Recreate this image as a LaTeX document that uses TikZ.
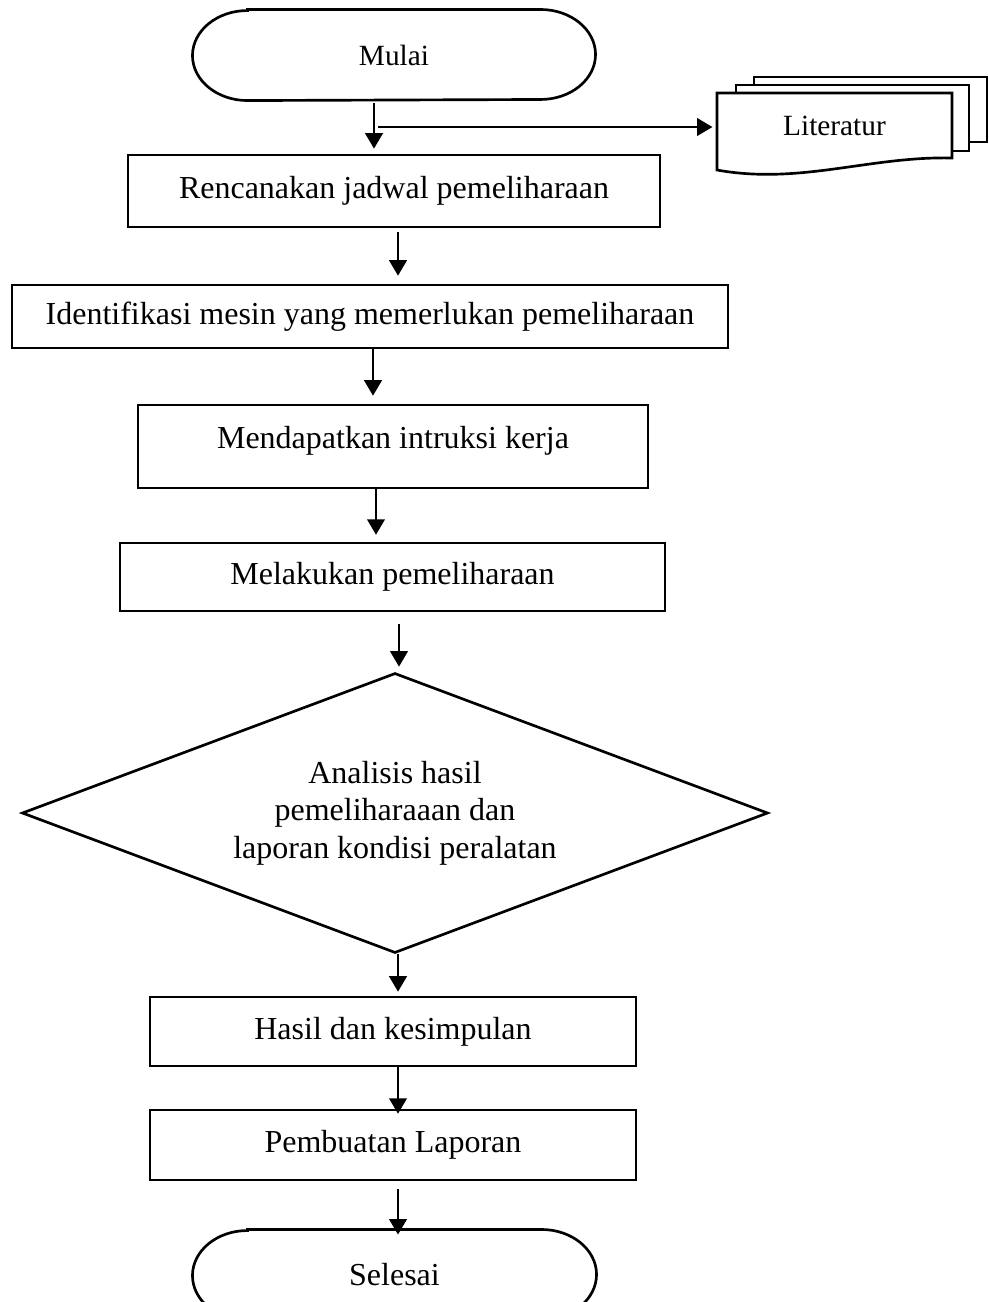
\documentclass[tikz,border=0pt]{standalone}
\usepackage{fontspec}
\setmainfont{Liberation Serif}
\usetikzlibrary{arrows.meta,shapes.geometric}
\newcommand\drawterminal[1]{%
  \draw[shapeline] ([xshift=20.625pt]#1.north west) -- ([xshift=-20.625pt]#1.north east)
    arc[start angle=90,end angle=-90,x radius=20.625pt,y radius=16.875pt]
    -- ([xshift=20.625pt]#1.south west)
    arc[start angle=270,end angle=90,x radius=20.625pt,y radius=16.875pt] -- cycle;}
\begin{document}
\begin{tikzpicture}[x=0.375pt,y=-0.375pt,
  shapeline/.style={line width=1pt},
  boxnode/.style={draw,line width=1pt,rectangle,inner sep=0pt,font=\fontsize{12}{14}\selectfont},
  termnode/.style={inner sep=0pt,minimum height=33.75pt},
  decnode/.style={draw,line width=1pt,diamond,aspect=2.67,inner sep=0pt,align=center,font=\fontsize{12}{14}\selectfont},
  arr/.style={-{Triangle[length=5.8pt,width=6.6pt]},line width=0.85pt}]
\clip (0,0) rectangle (988,1302);
\fill[white] (0,0) rectangle (988,1302);

% nodes
\node[termnode,minimum width=150.75pt,font=\fontsize{11}{13}\selectfont] (mulai) at (394,55) {Mulai};
\drawterminal{mulai}

\draw[shapeline,fill=white] (754,77) rectangle (987,142);
\draw[shapeline,fill=white] (736,85) rectangle (969,151);
\draw[shapeline,fill=white] (717,93) -- (952,93) -- (952,158)
  .. controls (870,156) and (800,185) .. (717,170) -- cycle;
\node[inner sep=0pt,minimum width=88.125pt,minimum height=24pt,font=\fontsize{11}{13}\selectfont] (lit) at (834.5,126) {Literatur};

\node[boxnode,minimum width=199.5pt,minimum height=27pt] (ren) at (394,191) {Rencanakan jadwal pemeliharaan};
\node[boxnode,minimum width=268.5pt,minimum height=23.625pt] (iden) at (370,316.5) {Identifikasi mesin yang memerlukan pemeliharaan};
\node[boxnode,minimum width=191.25pt,minimum height=31.125pt,text depth=7pt] (mend) at (393,446.5) {Mendapatkan intruksi kerja};
\node[boxnode,minimum width=204.375pt,minimum height=25.5pt] (mel) at (392.5,577) {Melakukan pemeliharaan};
\node[decnode,minimum width=279.75pt,minimum height=105pt] (diam) at (395,813) {Analisis hasil\\pemeliharaaan dan\\laporan kondisi peralatan};
\node[boxnode,minimum width=182.25pt,minimum height=25.875pt] (hasil) at (393,1031.5) {Hasil dan kesimpulan};
\node[boxnode,minimum width=182.25pt,minimum height=26.25pt] (pemb) at (393,1145) {Pembuatan Laporan};
\node[termnode,minimum width=151.125pt,font=\fontsize{12}{14}\selectfont] (sel) at (394.5,1275) {Selesai};
\drawterminal{sel}

% arrow x positions
\coordinate (x1) at (374,0);
\coordinate (x2) at (398,0);
\coordinate (x3) at (373,0);
\coordinate (x4) at (376,0);
\coordinate (x5) at (399,0);
\coordinate (br) at (378,127);

% connectors
\draw[arr,shorten <=1.1pt,shorten >=1.9pt] (mulai.south -| x1) -- (ren.north -| x1);
\draw[arr,shorten >=1.5pt] (br) -- (br -| lit.west);
\draw[arr,shorten <=1.5pt,shorten >=3pt] (ren.south -| x2) -- (iden.north -| x2);
\draw[arr,shorten >=3pt] (iden.south -| x3) -- (mend.north -| x3);
\draw[arr,shorten >=2.6pt] (mend.south -| x4) -- (mel.north -| x4);
\draw[arr,shorten <=4.5pt,shorten >=1.9pt] (mel.south -| x5) -- (diam.north -| x5);
\draw[arr,shorten >=1.5pt] (diam.south -| x2) -- (hasil.north -| x2);
\draw[arr,shorten >=-1.9pt] (hasil.south -| x2) -- (pemb.north -| x2);
\draw[arr,shorten <=3pt,shorten >=-1.9pt] (pemb.south -| x2) -- (sel.north -| x2);
\end{tikzpicture}
\end{document}
